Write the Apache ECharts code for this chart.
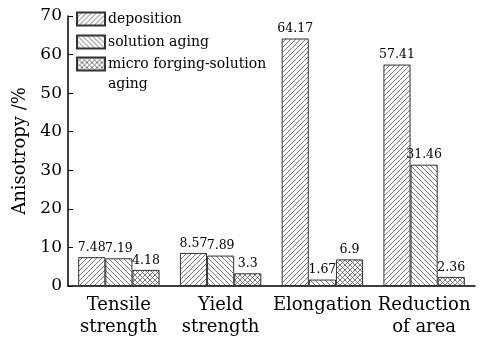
<!DOCTYPE html>
<html><head><meta charset="utf-8">
<script src="https://cdn.jsdelivr.net/npm/echarts@6/dist/echarts.min.js"></script>
<style>html,body{margin:0;padding:0;background:#fff}#c{width:489px;height:338px}</style>
</head><body><div id="c"></div>
<script>
const categories = ['Tensile\nstrength', 'Yield\nstrength', 'Elongation', 'Reduction\nof area'];
const seriesNames = ['deposition', 'solution aging', 'micro forging-solution aging'];
const deposition = [7.48, 8.57, 64.17, 57.41];
const solutionAging = [7.19, 7.89, 1.67, 31.46];
const microForging = [4.18, 3.3, 6.9, 2.36];
const yTicks = {min: 0, max: 70, interval: 10};

function hatch(kind) {
  const s = 5;
  const c = document.createElement('canvas');
  c.width = s; c.height = s;
  const g = c.getContext('2d');
  g.fillStyle = '#fff'; g.fillRect(0, 0, s, s);
  g.strokeStyle = '#555'; g.lineWidth = 0.8;
  function fwd() { // "/"
    g.beginPath();
    g.moveTo(-1, 1); g.lineTo(1, -1);
    g.moveTo(0, s); g.lineTo(s, 0);
    g.moveTo(s - 1, s + 1); g.lineTo(s + 1, s - 1);
    g.stroke();
  }
  function bwd() { // "\"
    g.beginPath();
    g.moveTo(-1, s - 1); g.lineTo(1, s + 1);
    g.moveTo(0, 0); g.lineTo(s, s);
    g.moveTo(s - 1, -1); g.lineTo(s + 1, 1);
    g.stroke();
  }
  if (kind === 'f') fwd();
  if (kind === 'b') bwd();
  if (kind === 'x') { fwd(); bwd(); }
  return {image: c, repeat: 'repeat'};
}

const font = 'DejaVu Serif';
const chart = echarts.init(document.getElementById('c'), null, {renderer: 'canvas'});
const data = [deposition, solutionAging, microForging];
const kinds = ['f', 'b', 'x'];
const legendText = {fontSize: 14, color: '#000', fontFamily: font, lineHeight: 20, padding: [0, 0, 0, -2]};
const legendBase = {
  orient: 'vertical', left: 71,
  itemWidth: 28, itemHeight: 13, itemGap: 3, icon: 'rect',
  textStyle: legendText
};
chart.setOption({
  animation: false,
  backgroundColor: '#fff',
  textStyle: {fontFamily: font},
  grid: {left: 68, right: 14, top: 16, bottom: 50},
  legend: [
    Object.assign({}, legendBase, {top: 4, data: seriesNames.slice(0, 2)}),
    Object.assign({}, legendBase, {
      top: 29,
      formatter: function (n) { return '\nmicro forging-solution\naging'; },
      data: seriesNames.slice(2)
    })
  ],
  xAxis: {
    type: 'category', data: categories,
    axisTick: {show: false},
    axisLine: {lineStyle: {color: '#000', width: 1.5}},
    axisLabel: {fontSize: 18, color: '#000', fontFamily: font, margin: 8, interval: 0, lineHeight: 22}
  },
  yAxis: {
    type: 'value', min: yTicks.min, max: yTicks.max, interval: yTicks.interval,
    name: 'Anisotropy /%', nameLocation: 'middle', nameGap: 32,
    nameTextStyle: {fontSize: 18, color: '#000', fontFamily: font},
    axisLine: {show: true, lineStyle: {color: '#000', width: 1.5}},
    axisTick: {show: true, inside: true, length: 5, lineStyle: {color: '#000'}},
    splitLine: {show: false},
    axisLabel: {fontSize: 17, color: '#000', fontFamily: font, margin: 6}
  },
  series: seriesNames.map((n, i) => ({
    name: n, type: 'bar', data: data[i],
    barGap: '0%', barCategoryGap: '20%',
    itemStyle: {color: hatch(kinds[i]), borderColor: '#333', borderWidth: 1},
    label: {show: true, position: 'top', distance: 3, fontSize: 12.5, color: '#000', fontFamily: font}
  }))
});
</script></body></html>
